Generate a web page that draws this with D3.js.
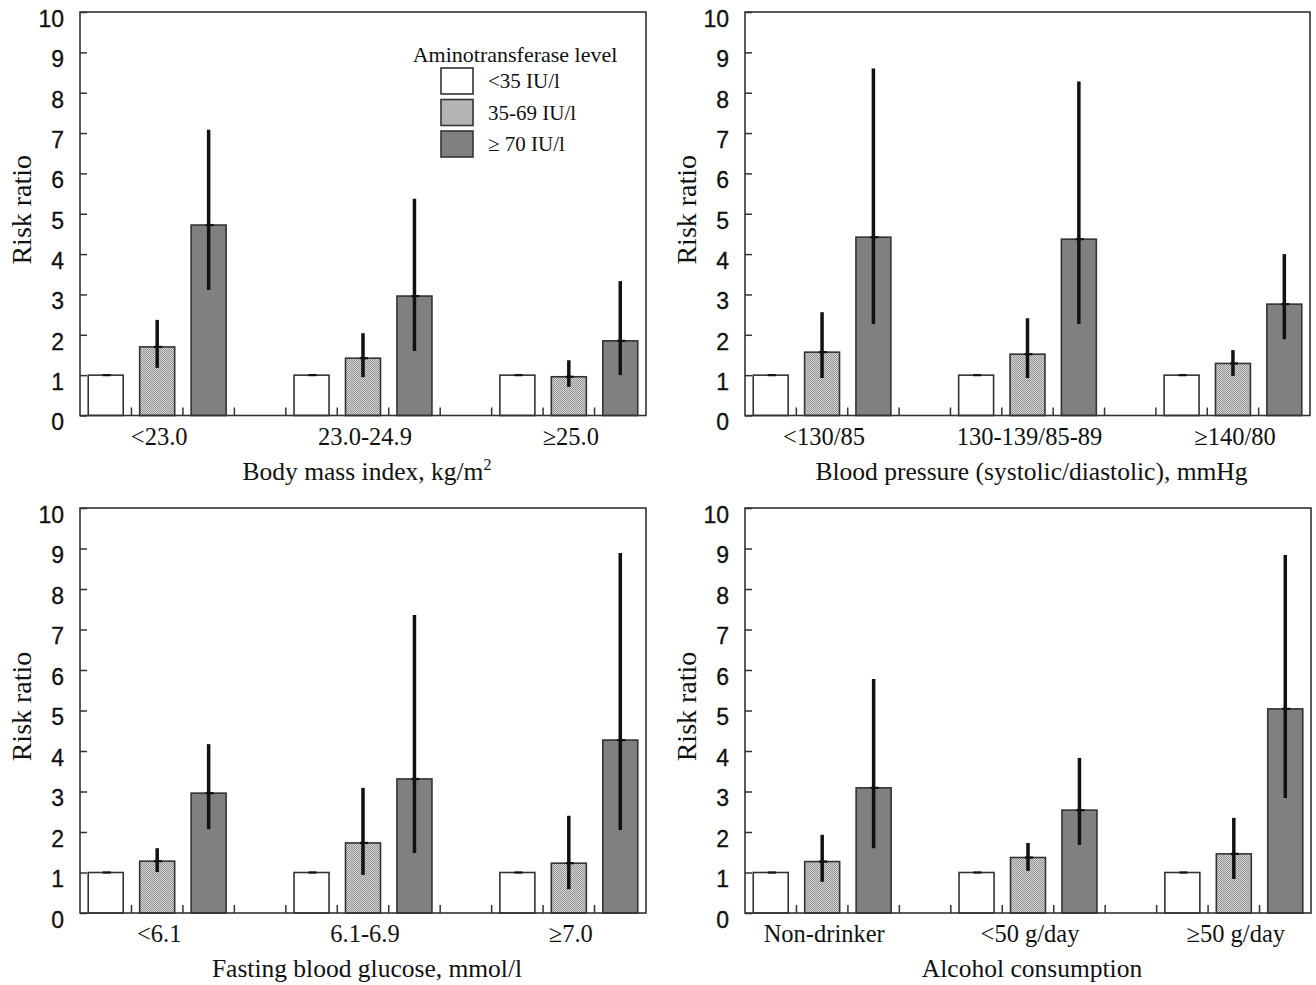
<!DOCTYPE html>
<html><head><meta charset="utf-8">
<script src="https://cdn.jsdelivr.net/npm/d3@7"></script>
<style>html,body{margin:0;padding:0;background:#fff;}svg{display:block;}</style>
</head><body>
<svg id="chart" width="1316" height="985"></svg>
<script>
// ---------- data ----------
const levels = ["<35 IU/l", "35-69 IU/l", "\u2265 70 IU/l"];
const yTicks = [0,1,2,3,4,5,6,7,8,9,10];

const bmiCats = ["<23.0", "23.0-24.9", "\u226525.0"];
const bmiLow = [1, 1, 1];
const bmiMid = [1.70, 1.42, 0.96];
const bmiMidLo = [1.18, 0.95, 0.71];
const bmiMidHi = [2.37, 2.04, 1.37];
const bmiHigh = [4.72, 2.96, 1.85];
const bmiHighLo = [3.11, 1.60, 1.00];
const bmiHighHi = [7.08, 5.37, 3.33];

const bpCats = ["<130/85", "130-139/85-89", "\u2265140/80"];
const bpLow = [1, 1, 1];
const bpMid = [1.57, 1.52, 1.29];
const bpMidLo = [0.93, 0.93, 0.98];
const bpMidHi = [2.56, 2.41, 1.62];
const bpHigh = [4.42, 4.37, 2.76];
const bpHighLo = [2.27, 2.27, 1.89];
const bpHighHi = [8.60, 8.28, 4.00];

const fbgCats = ["<6.1", "6.1-6.9", "\u22657.0"];
const fbgLow = [1, 1, 1];
const fbgMid = [1.28, 1.73, 1.23];
const fbgMidLo = [1.01, 0.94, 0.59];
const fbgMidHi = [1.60, 3.09, 2.40];
const fbgHigh = [2.96, 3.31, 4.27];
const fbgHighLo = [2.07, 1.48, 2.05];
const fbgHighHi = [4.17, 7.36, 8.89];

const alcCats = ["Non-drinker", "<50 g/day", "\u226550 g/day"];
const alcLow = [1, 1, 1];
const alcMid = [1.27, 1.37, 1.46];
const alcMidLo = [0.77, 1.04, 0.84];
const alcMidHi = [1.93, 1.73, 2.35];
const alcHigh = [3.09, 2.54, 5.04];
const alcHighLo = [1.60, 1.68, 2.84];
const alcHighHi = [5.78, 3.83, 8.84];

// ---------- layout ----------
const svg = d3.select("#chart");
svg.append("rect").attr("width",1316).attr("height",985).attr("fill","#fff");

const defs = svg.append("defs");
const pat = defs.append("pattern").attr("id","stipple").attr("width",2).attr("height",2)
  .attr("patternUnits","userSpaceOnUse");
pat.append("rect").attr("width",2).attr("height",2).attr("fill","#d2d2d2");
pat.append("rect").attr("x",0).attr("y",0).attr("width",1).attr("height",1).attr("fill","#969696");
pat.append("rect").attr("x",1).attr("y",1).attr("width",1).attr("height",1).attr("fill","#969696");

const fills = ["#ffffff", "url(#stipple)", "#808080"];
const serif = "'Liberation Serif','Times New Roman',serif";
const sans = "'Liberation Sans',Arial,sans-serif";

const panels = [
  {cats:bmiCats, low:bmiLow, mid:bmiMid, midLo:bmiMidLo, midHi:bmiMidHi, high:bmiHigh, highLo:bmiHighLo, highHi:bmiHighHi,
   title:"Body mass index, kg/m", sup:"2", x0:80, x1:646, top:12, bottom:415.5, legend:true},
  {cats:bpCats, low:bpLow, mid:bpMid, midLo:bpMidLo, midHi:bpMidHi, high:bpHigh, highLo:bpHighLo, highHi:bpHighHi,
   title:"Blood pressure (systolic/diastolic), mmHg", x0:745, x1:1310, top:12, bottom:415.5},
  {cats:fbgCats, low:fbgLow, mid:fbgMid, midLo:fbgMidLo, midHi:fbgMidHi, high:fbgHigh, highLo:fbgHighLo, highHi:fbgHighHi,
   title:"Fasting blood glucose, mmol/l", x0:80, x1:646, top:508, bottom:913},
  {cats:alcCats, low:alcLow, mid:alcMid, midLo:alcMidLo, midHi:alcMidHi, high:alcHigh, highLo:alcHighLo, highHi:alcHighHi,
   title:"Alcohol consumption", x0:745, x1:1311, top:508, bottom:913}
];

panels.forEach(p => {
  const g = svg.append("g");
  const y = d3.scaleLinear().domain([0,10]).range([p.bottom, p.top]);
  const xCat = d3.scaleBand().domain(p.cats).range([p.x0, p.x1]).paddingInner(0.25).paddingOuter(0);
  const xLev = d3.scaleBand().domain(levels).range([0, xCat.bandwidth()]).paddingInner(0.32).paddingOuter(0.16);

  // bottom inward ticks at slot boundaries
  const bnds = [];
  p.cats.forEach(c => { for (let k=0;k<=3;k++){ const bx = xCat(c) + xLev.step()*k; if (bx > p.x0+2 && bx < p.x1-2) bnds.push(bx); } });
  g.selectAll(".bt").data(bnds).join("line")
    .attr("x1",d=>d).attr("x2",d=>d).attr("y1",p.bottom).attr("y2",p.bottom-8)
    .attr("stroke","#333").attr("stroke-width",1.5);

  // y axis
  const ax = g.append("g").attr("transform",`translate(${p.x0},0)`)
    .call(d3.axisLeft(y).tickValues(yTicks).tickFormat(d3.format("d")).tickSizeInner(-7).tickSizeOuter(0).tickPadding(16));
  ax.select(".domain").remove();
  ax.selectAll(".tick line").attr("stroke","#333").attr("stroke-width",1.5);
  ax.selectAll(".tick text").attr("font-family",sans).attr("font-size",23).attr("fill","#111")
    .attr("stroke","#111").attr("stroke-width",0.3).attr("y",7);

  // bars
  const series = [
    {lev:levels[0], v:p.low, lo:null, hi:null},
    {lev:levels[1], v:p.mid, lo:p.midLo, hi:p.midHi},
    {lev:levels[2], v:p.high, lo:p.highLo, hi:p.highHi}
  ];
  series.forEach((s, si) => {
    const data = p.cats.map((c,i)=>({c, v:s.v[i], lo:s.lo?s.lo[i]:null, hi:s.hi?s.hi[i]:null}));
    g.selectAll(".bar"+si).data(data).join("rect")
      .attr("x",d=>xCat(d.c)+xLev(s.lev)).attr("width",xLev.bandwidth())
      .attr("y",d=>y(d.v)).attr("height",d=>y(0)-y(d.v))
      .attr("fill",fills[si]).attr("stroke","#333").attr("stroke-width",1.6);
    const cx = d => xCat(d.c)+xLev(s.lev)+xLev.bandwidth()/2;
    if (s.lo) {
      g.selectAll(".err"+si).data(data).join("line")
        .attr("x1",cx).attr("x2",cx).attr("y1",d=>y(d.lo)).attr("y2",d=>y(d.hi))
        .attr("stroke","#111").attr("stroke-width",3.5);
    }
    g.selectAll(".cap"+si).data(data).join("line")
      .attr("x1",d=>cx(d)-3).attr("x2",d=>cx(d)+5).attr("y1",d=>y(d.v)).attr("y2",d=>y(d.v))
      .attr("stroke","#111").attr("stroke-width",2.2);
  });

  // frame
  g.append("rect").attr("x",p.x0).attr("y",p.top).attr("width",p.x1-p.x0).attr("height",p.bottom-p.top)
    .attr("fill","none").attr("stroke","#333").attr("stroke-width",1.6);

  // category labels
  g.selectAll(".cl").data(p.cats).join("text")
    .attr("x",d=>xCat(d)+xCat.bandwidth()/2+2).attr("y",p.bottom+29)
    .attr("text-anchor","middle").attr("font-family",serif).attr("font-size",24.5).attr("fill","#111")
    .text(d=>d);

  // axis title
  const t = g.append("text").attr("x",(p.x0+p.x1)/2+4).attr("y",p.bottom+64)
    .attr("text-anchor","middle").attr("font-family",serif).attr("font-size",25.5).attr("fill","#111")
    .text(p.title);
  if (p.sup) t.append("tspan").attr("dy",-10).attr("font-size",16).text(p.sup);

  // y title
  g.append("text").attr("transform",`translate(${p.x0-49},${(p.top+p.bottom)/2-4}) rotate(-90)`)
    .attr("text-anchor","middle").attr("font-family",serif).attr("font-size",28).attr("fill","#111")
    .text("Risk ratio");

  // legend
  if (p.legend) {
    const lg = g.append("g").attr("transform",`translate(${p.x0},${p.top})`);
    lg.append("text").attr("x",435).attr("y",50).attr("text-anchor","middle")
      .attr("font-family",serif).attr("font-size",22).attr("fill","#111").text("Aminotransferase level");
    const items = lg.selectAll(".li").data(levels).join("g")
      .attr("transform",(d,i)=>`translate(361,${56+i*31.5})`);
    items.append("rect").attr("width",32).attr("height",26).attr("fill",(d,i)=>fills[i])
      .attr("stroke","#333").attr("stroke-width",1.6);
    items.append("text").attr("x",47).attr("y",20).attr("font-family",serif).attr("font-size",21)
      .attr("fill","#111").text(d=>d);
  }
});
</script>
</body></html>
